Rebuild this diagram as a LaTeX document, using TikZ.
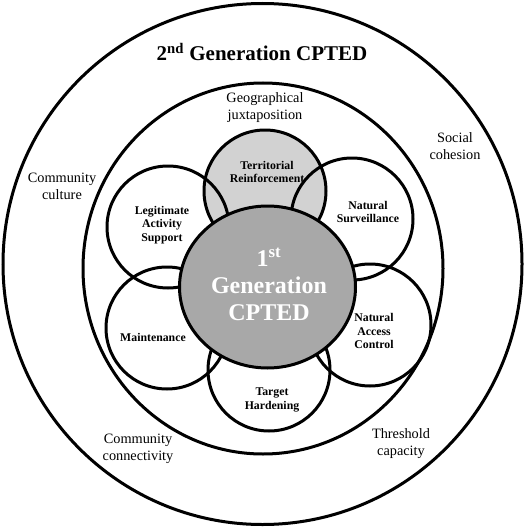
\documentclass[tikz,border=0pt]{standalone}
\usepackage{fontspec}
\setmainfont{Liberation Serif}
\usetikzlibrary{shapes.geometric}
\definecolor{lightfill}{RGB}{210,210,210}
\definecolor{midfill}{RGB}{168,168,168}
\tikzset{
  ring/.style={draw=black, line width=3pt, ellipse, inner sep=0pt},
  petal/.style={draw=black, line width=3pt, circle, inner sep=0pt, minimum size=122pt},
  ringlabel/.style={align=center, font=\fontsize{14.3}{17}\selectfont, inner sep=0pt},
  petallabel/.style={align=center, font=\fontsize{11.8}{13.5}\selectfont\bfseries, inner sep=0pt},
}
\begin{document}
\begin{tikzpicture}[x=1pt, y=-1pt]
\useasboundingbox (0,0) rectangle (530,527);
% outer rings
\node[ring, minimum width=519pt, minimum height=521pt] (outer) at (262.5,264) {};
\node[ring, minimum width=360pt, minimum height=371pt] (middle) at (263,268.5) {};
% territorial reinforcement fill
\fill[lightfill] (265,191) circle (61pt);
% petals
\node[petal] (tr) at (265,191) {};
\node[petal] (ns) at (352,219) {};
\node[petal] (nac) at (370,325) {};
\node[petal] (th) at (269,370) {};
\node[petal] (mt) at (167,328) {};
\node[petal] (las) at (168,227) {};
% centre
\node[ring, fill=midfill, minimum width=176pt, minimum height=162pt] (core) at (267.5,287) {};
% texts
\node[align=center, font=\fontsize{21}{24}\selectfont\bfseries, inner sep=0pt] (title) at (262,52) {2\textsuperscript{nd} Generation CPTED};
\node[ringlabel] (geo) at (265,108) {Geographical\\juxtaposition};
\node[ringlabel] (cc) at (62,186) {Community\\culture};
\node[ringlabel] (sc) at (455,146) {Social\\cohesion};
\node[ringlabel] (cn) at (138,449) {Community\\connectivity};
\node[ringlabel] (tc) at (401,444) {Threshold\\capacity};
\node[petallabel] (trl) at (267,172) {Territorial\\Reinforcement};
\node[petallabel] (lasl) at (162,225) {Legitimate\\Activity\\Support};
\node[petallabel] (nsl) at (368,212) {Natural\\Surveillance};
\node[petallabel] (mtl) at (153,337) {Maintenance};
\node[petallabel] (nacl) at (374,331) {Natural\\Access\\Control};
\node[petallabel] (thl) at (272,400) {Target\\Hardening};
\node[align=center, text=white, font=\fontsize{24}{27}\selectfont\bfseries, inner sep=0pt] (corel) at (269,284) {1\textsuperscript{st}\\Generation\\CPTED};
\end{tikzpicture}
\end{document}
